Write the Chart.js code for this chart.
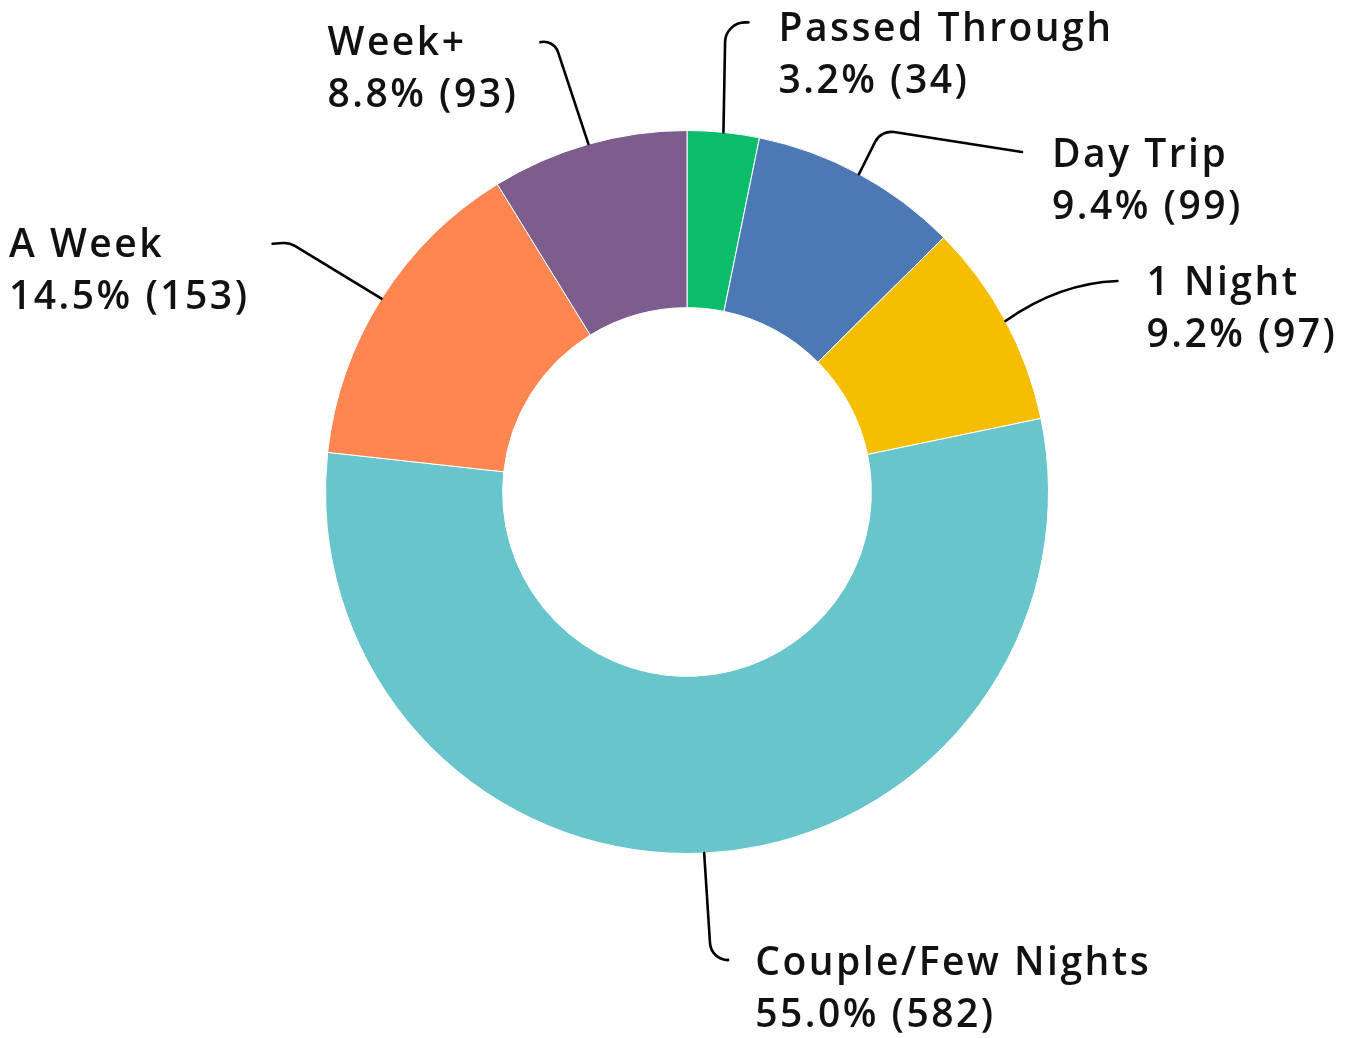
<!DOCTYPE html>
<html>
<head>
<meta charset="utf-8">
<title>Length of stay</title>
<script src="https://cdn.jsdelivr.net/npm/chart.js@4.4.1/dist/chart.umd.min.js"></script>
<style>
  html, body { margin: 0; padding: 0; background: #fff; }
  #stayChart { display: block; }
</style>
</head>
<body>
<canvas id="stayChart" width="1360" height="1038"></canvas>
<script>
// Data
const categories = ['Passed Through', 'Day Trip', '1 Night', 'Couple/Few Nights', 'A Week', 'Week+'];
const responses = [34, 99, 97, 582, 153, 93];
const sliceColors = ['#0bbd6a', '#4c79b4', '#f6be00', '#67c5cb', '#ff8650', '#7d5c8e'];

// Callout placement, relative to the outer edge at each slice's middle angle
const callouts = [
    { side: 'right', corner: [2, -110], end: [25, -110], radius: 20, gap: 30, dy: 8 },
    { side: 'right', corner: [22, -44], end: [163, -22], radius: 18, gap: 30, dy: 4 },
    { side: 'right', corner: [54, -38], end: [112, -40], quad: true, gap: 29, dy: 3 },
    { side: 'right', corner: [7, 108], end: [22, 107], radius: 18, gap: 29, dy: 4 },
    { side: 'left', corner: [-92, -56], end: [-109, -55], radius: 20, gap: 23, dy: 2 },
    { side: 'left', corner: [-35, -106], end: [-48, -102], radius: 15, gap: 22, dy: 2 }
];

const labelFont = '600 39px "Open Sans", "Noto Sans", sans-serif';
const lineGap = 52;

const calloutPlugin = {
    id: 'callouts',
    afterDatasetsDraw(chart) {
        const ctx = chart.ctx;
        const meta = chart.getDatasetMeta(0);
        const values = chart.data.datasets[0].data;
        const total = values.reduce((a, b) => a + b, 0);
        ctx.save();
        meta.data.forEach((arc, i) => {
            const c = callouts[i];
            const mid = (arc.startAngle + arc.endAngle) / 2;
            const ax = arc.x + Math.cos(mid) * arc.outerRadius;
            const ay = arc.y + Math.sin(mid) * arc.outerRadius;
            const cx = ax + c.corner[0], cy = ay + c.corner[1];
            const ex = ax + c.end[0], ey = ay + c.end[1];

            // leader line
            ctx.beginPath();
            ctx.moveTo(ax, ay);
            if (c.quad) {
                ctx.quadraticCurveTo(cx, cy, ex, ey);
            } else {
                ctx.arcTo(cx, cy, ex, ey, c.radius);
                ctx.lineTo(ex, ey);
            }
            ctx.strokeStyle = '#000';
            ctx.lineWidth = 2.6;
            ctx.lineCap = 'round';
            ctx.stroke();

            // label text
            const pct = (values[i] / total * 100).toFixed(1) + '%';
            const lines = [chart.data.labels[i], pct + ' (' + values[i] + ')'];
            ctx.font = labelFont;
            ctx.letterSpacing = '2.5px';
            ctx.fillStyle = '#111';
            ctx.textAlign = 'left';
            ctx.textBaseline = 'middle';
            let tx;
            if (c.side === 'right') {
                tx = ex + c.gap;
            } else {
                const w = Math.max(...lines.map(t => ctx.measureText(t).width));
                tx = ex - c.gap - w;
            }
            lines.forEach((t, k) => {
                ctx.fillText(t, tx, ey + c.dy + k * lineGap);
            });
        });
        ctx.restore();
    }
};

const stayCtx = document.getElementById('stayChart').getContext('2d');
const stayChart = new Chart(stayCtx, {
    type: 'doughnut',
    data: {
        labels: categories,
        datasets: [{
            data: responses,
            backgroundColor: sliceColors,
            borderColor: '#ffffff',
            borderWidth: 1
        }]
    },
    options: {
        responsive: false,
        animation: false,
        cutout: '51%',
        layout: {
            padding: { top: 130, bottom: 184, left: 325, right: 311 }
        },
        plugins: {
            legend: { display: false },
            tooltip: { enabled: false }
        }
    },
    plugins: [calloutPlugin]
});
</script>
</body>
</html>
